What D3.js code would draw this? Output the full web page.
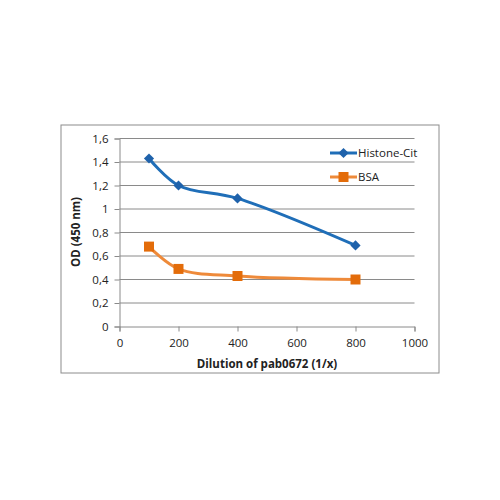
<!DOCTYPE html>
<html>
<head>
<meta charset="utf-8">
<script src="https://cdn.jsdelivr.net/npm/d3@7"></script>
<style>
  body { margin: 0; background: #fff; }
  text { font-family: "Open Sans", "Liberation Sans", sans-serif; fill: #222; }
</style>
</head>
<body>
<script>
'use strict';

const w = 500;
const h = 500;

// data
const dilutions = [100, 200, 400, 800];
const histone = [1.43, 1.20, 1.09, 0.69];
const bsa = [0.68, 0.49, 0.43, 0.40];
const xTicks = [0, 200, 400, 600, 800, 1000];
const yTicks = [0, 0.2, 0.4, 0.6, 0.8, 1, 1.2, 1.4, 1.6];

const svg = d3.select('body').append('svg').attr('width', w).attr('height', h);

// outer chart frame
svg.append('rect')
  .attr('x', 61).attr('y', 125)
  .attr('width', 378).attr('height', 248)
  .attr('fill', '#fff')
  .attr('stroke', '#8c8c8c')
  .attr('stroke-width', 1);

const x = d3.scaleLinear().domain([0, 1000]).range([119.5, 414.5]);
const y = d3.scaleLinear().domain([0, 1.6]).range([326.5, 138.5]);

const fmt = (d) => String(d).replace('.', ',');

// gridlines
svg.append('g')
  .selectAll('line')
  .data(yTicks.filter((d) => d > 0))
  .enter()
  .append('line')
  .attr('x1', x(0)).attr('x2', x(1000))
  .attr('y1', (d) => y(d)).attr('y2', (d) => y(d))
  .attr('stroke', '#8a8a8a')
  .attr('stroke-width', 1);

// axes
const yAxis = svg.append('g')
  .attr('transform', `translate(${x(0)},0)`)
  .call(d3.axisLeft(y).tickValues(yTicks).tickFormat(fmt).tickSize(5).tickPadding(6));
const xAxis = svg.append('g')
  .attr('transform', `translate(0,${y(0)})`)
  .call(d3.axisBottom(x).tickValues(xTicks).tickFormat((d) => String(d)).tickSize(5).tickPadding(7));

[xAxis, yAxis].forEach((g) => {
  g.select('.domain').attr('stroke', '#8a8a8a');
  g.selectAll('.tick line').attr('stroke', '#8a8a8a');
  g.selectAll('.tick text')
    .attr('font-size', 11.5)
    .attr('font-family', '"Open Sans", "Liberation Sans", sans-serif')
    .attr('fill', '#222');
});

// axis titles
svg.append('text')
  .text('Dilution of pab0672 (1/x)')
  .attr('x', 267).attr('y', 368)
  .attr('text-anchor', 'middle')
  .attr('font-size', 11.5)
  .attr('font-weight', 'bold');

svg.append('text')
  .text('OD (450 nm)')
  .attr('transform', 'translate(80,232) rotate(-90)')
  .attr('text-anchor', 'middle')
  .attr('font-size', 11.5)
  .attr('font-weight', 'bold');

// series (diamond = square turned 45 degrees, like the spreadsheet marker)
const series = [
  { name: 'Histone-Cit', values: histone, line: '#1f6eb8', mark: '#1f62ab', size: 52, rot: 45 },
  { name: 'BSA', values: bsa, line: '#ee8a3a', mark: '#e36c0a', size: 100, rot: 0 }
];

const line = d3.line()
  .x((d) => x(d[0]))
  .y((d) => y(d[1]))
  .curve(d3.curveCatmullRom.alpha(0.5));

series.forEach((s) => {
  const pts = dilutions.map((d, i) => [d, s.values[i]]);
  svg.append('path')
    .datum(pts)
    .attr('d', line)
    .attr('fill', 'none')
    .attr('stroke', s.line)
    .attr('stroke-width', 3)
    .attr('stroke-linejoin', 'round');
  svg.append('g')
    .selectAll('path')
    .data(pts)
    .enter()
    .append('path')
    .attr('d', d3.symbol().type(d3.symbolSquare).size(s.size))
    .attr('transform', (d) => `translate(${x(d[0])},${y(d[1])}) rotate(${s.rot})`)
    .attr('fill', s.mark);
});

// legend
const legend = svg.append('g');
series.forEach((s, i) => {
  const ly = 153 + i * 24;
  legend.append('line')
    .attr('x1', 330).attr('x2', 357)
    .attr('y1', ly).attr('y2', ly)
    .attr('stroke', s.line)
    .attr('stroke-width', 3);
  legend.append('path')
    .attr('d', d3.symbol().type(d3.symbolSquare).size(s.size))
    .attr('transform', `translate(343.5,${ly}) rotate(${s.rot})`)
    .attr('fill', s.mark);
  legend.append('text')
    .text(s.name)
    .attr('x', 358).attr('y', ly + 4)
    .attr('font-size', 11.5);
});
</script>
</body>
</html>
